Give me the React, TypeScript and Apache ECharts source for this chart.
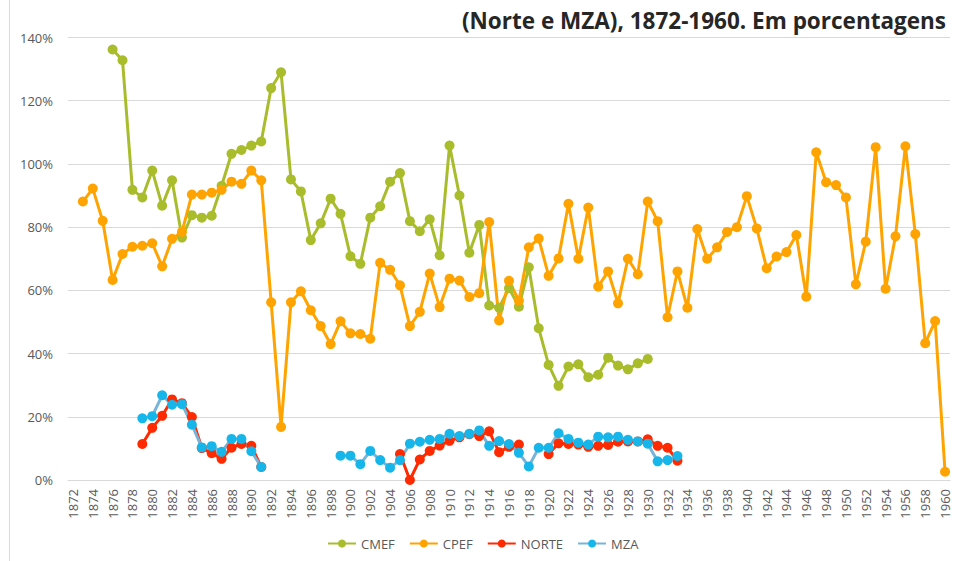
import React, { useEffect, useRef } from "react";
import * as echarts from "echarts";

const START_YEAR = 1872;
const END_YEAR = 1960;
const years: string[] = Array.from({ length: END_YEAR - START_YEAR + 1 }, (_, i) => String(START_YEAR + i));

const titleText = "(Norte e MZA), 1872-1960. Em porcentagens";
const yTicks = [0, 20, 40, 60, 80, 100, 120, 140];

// 1872..1960
const cmef: (number | null)[] = [
  null, null, null, null,
  136.2, 132.8, 91.8, 89.4, 97.9, 86.8, 94.8, 76.7, 83.8, 83.0,
  83.6, 93.1, 103.2, 104.4, 105.8, 107.1, 124.0, 129.0, 95.1, 91.3,
  75.9, 81.2, 89.0, 84.2, 70.8, 68.4, 83.0, 86.6, 94.4, 97.1,
  81.9, 78.7, 82.5, 71.1, 105.8, 90.0, 71.9, 80.7, 55.2, 54.5,
  60.7, 54.8, 67.3, 48.0, 36.4, 29.8, 35.9, 36.6, 32.5, 33.3,
  38.7, 36.2, 35.0, 36.9, 38.3,
  null, null, null, null, null, null, null, null, null, null,
  null, null, null, null, null, null, null, null, null, null,
  null, null, null, null, null, null, null, null, null, null,
];

const cpef: (number | null)[] = [
  null,
  88.1, 92.2, 82.0, 63.3, 71.5, 73.8, 74.1, 74.9, 67.6, 76.3,
  78.5, 90.3, 90.3, 90.9, 91.8, 94.4, 93.7, 97.9, 94.8, 56.2,
  16.8, 56.2, 59.7, 53.7, 48.7, 43.0, 50.2, 46.4, 46.2, 44.7,
  68.7, 66.5, 61.6, 48.7, 53.2, 65.3, 54.7, 63.7, 63.1, 57.9,
  59.1, 81.6, 50.5, 63.0, 56.7, 73.6, 76.4, 64.6, 70.1, 87.4,
  70.0, 86.2, 61.2, 66.0, 55.9, 70.0, 65.1, 88.1, 81.9, 51.5,
  66.0, 54.5, 79.4, 70.0, 73.6, 78.5, 80.0, 89.8, 79.6, 67.0,
  70.7, 72.1, 77.5, 58.0, 103.7, 94.2, 93.3, 89.4, 61.9, 75.4,
  105.3, 60.5, 77.1, 105.6, 77.8, 43.3, 50.3, 2.6,
];

const norte: (number | null)[] = [
  null, null, null, null, null, null, null,
  11.4, 16.5, 20.3, 25.5, 24.3, 19.9, 10.1, 8.5, 6.7, 10.2, 11.4, 10.8, 4.1,
  null, null, null, null, null, null, null, null, null, null, null, null, null,
  8.2, 0.0, 6.5, 9.2, 10.9, 12.4, 13.5, 14.5, 13.9, 15.4, 8.8, 10.5, 11.2,
  null, null,
  8.2, 11.6, 11.4, 11.2, 10.5, 10.8, 11.1, 12.1, 12.2, 12.2, 12.9, 10.8, 10.2, 6.1,
  null, null, null, null, null, null, null, null, null, null,
  null, null, null, null, null, null, null, null, null, null,
  null, null, null, null, null, null, null,
];

const mza: (number | null)[] = [
  null, null, null, null, null, null, null,
  19.5, 20.2, 26.8, 23.8, 24.0, 17.5, 10.3, 10.7, 8.9, 13.0, 13.0, 9.1, 4.1,
  null, null, null, null, null, null, null,
  7.7, 7.7, 5.0, 9.2, 6.3, 3.9, 6.3, 11.5, 12.1, 12.7,
  13.0, 14.6, 13.9, 14.6, 15.7, 10.8, 12.3, 11.4, 8.6, 4.3,
  10.2, 10.2, 14.8, 13.0, 11.8, 11.2, 13.7, 13.5, 13.7, 12.7,
  12.2, 11.5, 5.9, 6.3, 7.6,
  null, null, null, null, null, null, null, null, null, null,
  null, null, null, null, null, null, null, null, null, null,
  null, null, null, null, null, null, null,
];

const seriesNames = ["CMEF", "CPEF", "NORTE", "MZA"];
const lineColors = ["#A8BC2C", "#FFA300", "#FF2A00", "#78B4D8"];
const markerColors = ["#A8BC2C", "#FFA300", "#FF2A00", "#17B6EA"];

export default function App() {
  const ref = useRef<HTMLDivElement>(null);
  useEffect(() => {
    if (!ref.current) return;
    const chart = echarts.init(ref.current, undefined, { renderer: "svg" });
    const datasets = [cmef, cpef, norte, mza];
    const font = "'Open Sans', 'Noto Sans', sans-serif";
    chart.setOption({
      animation: false,
      backgroundColor: "#ffffff",
      title: {
        text: titleText,
        right: 6,
        top: 4,
        textStyle: { fontFamily: font, fontWeight: "bold", fontSize: 22.5, color: "#262626" },
      },
      grid: { left: 68, right: 7, top: 37.5, bottom: 81, containLabel: false },
      legend: {
        bottom: 6,
        left: 322,
        itemWidth: 28,
        itemHeight: 10,
        itemGap: 14,
        textStyle: { fontFamily: font, fontSize: 13, color: "#595959" },
        data: seriesNames,
      },
      xAxis: {
        type: "category",
        data: years,
        boundaryGap: true,
        axisLine: { show: true, lineStyle: { color: "#D9D9D9" } },
        axisTick: { show: false },
        axisLabel: {
          interval: 1,
          rotate: 90,
          margin: 9,
          fontFamily: font,
          fontSize: 13,
          color: "#595959",
        },
      },
      yAxis: {
        type: "value",
        min: yTicks[0],
        max: yTicks[yTicks.length - 1],
        interval: 20,
        axisLine: { show: false },
        axisTick: { show: false },
        splitLine: { lineStyle: { color: "#D9D9D9", width: 1 } },
        axisLabel: {
          formatter: "{value}%",
          margin: 15,
          fontFamily: font,
          fontSize: 13,
          color: "#595959",
        },
      },
      series: datasets.map((d, i) => ({
        name: seriesNames[i],
        type: "line",
        data: d,
        connectNulls: false,
        symbol: "circle",
        symbolSize: 10,
        showSymbol: true,
        showAllSymbol: true,
        lineStyle: { color: lineColors[i], width: 3 },
        itemStyle: { color: markerColors[i] },
      })),
      graphic: [
        {
          type: "line",
          shape: { x1: 9.5, y1: 0, x2: 9.5, y2: 561 },
          style: { stroke: "#D9D9D9", lineWidth: 1 },
        },
      ],
    });
    return () => chart.dispose();
  }, []);
  return <div ref={ref} style={{ width: 957, height: 561, position: "absolute", left: 0, top: 0 }} />;
}
